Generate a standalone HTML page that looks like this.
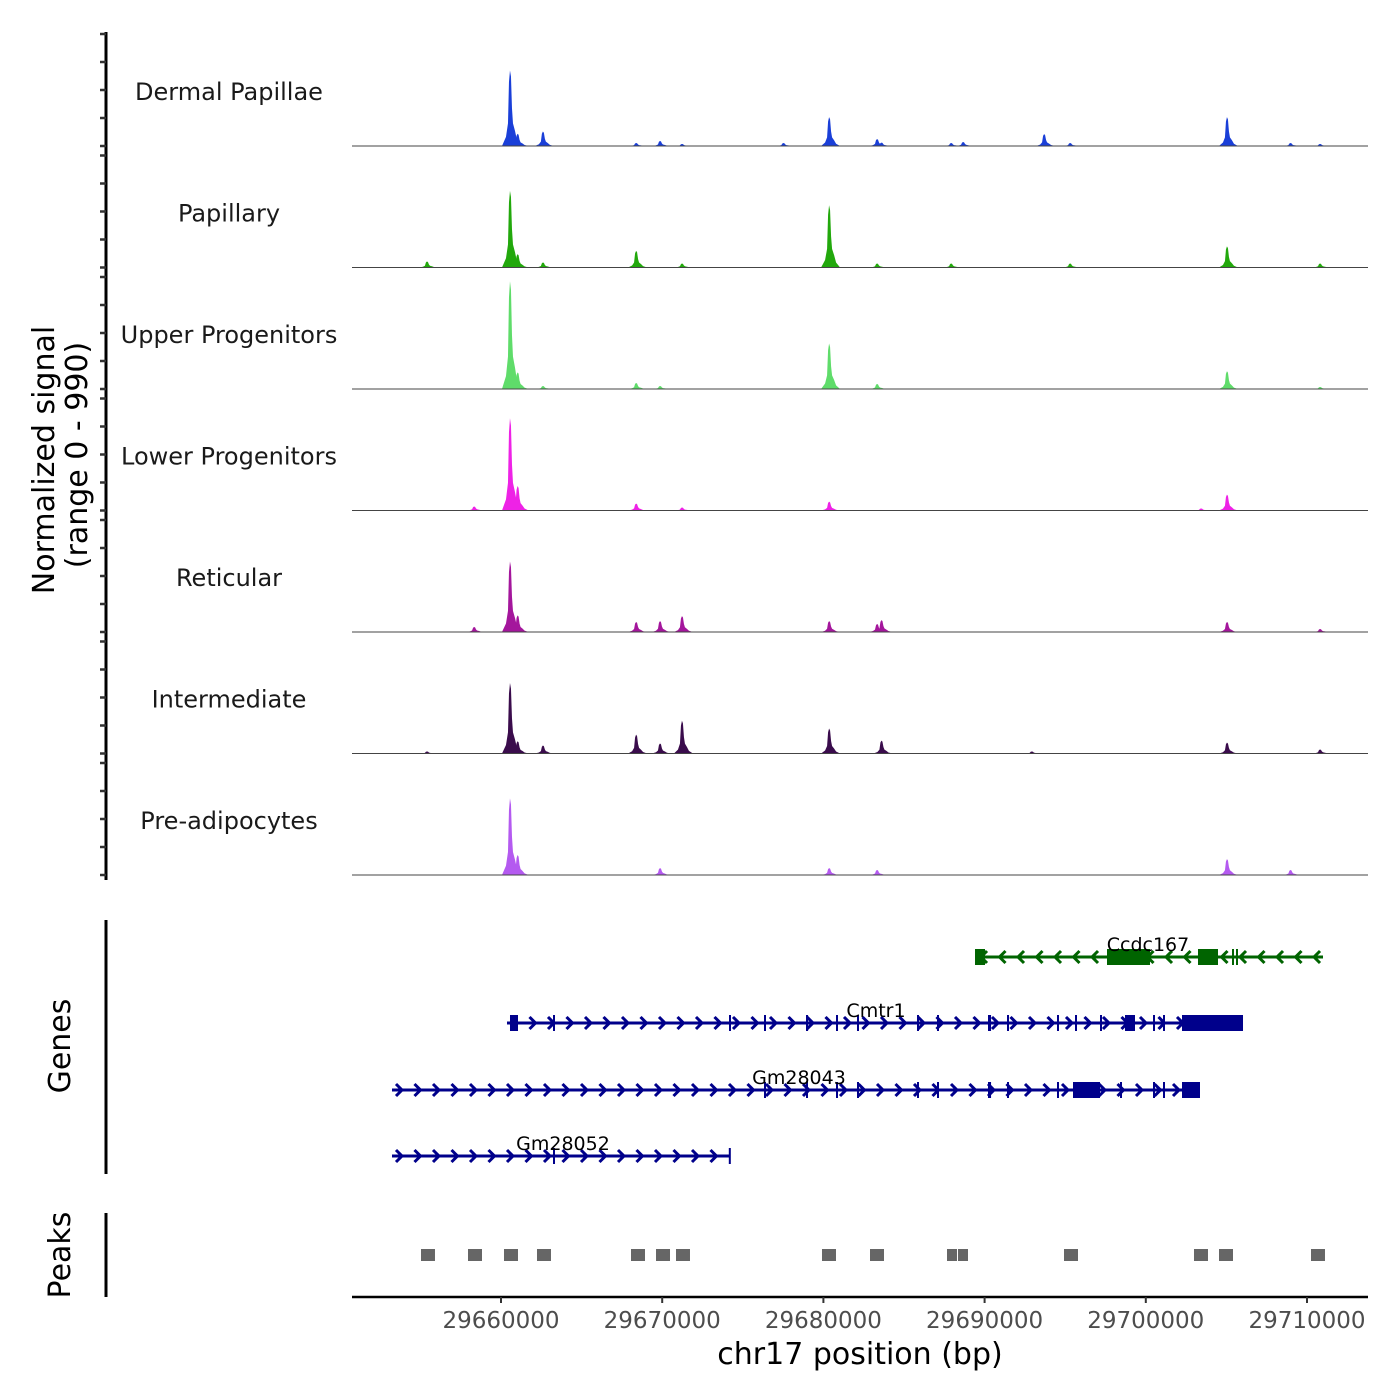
<!DOCTYPE html>
<html><head><meta charset="utf-8">
<style>
html,body{margin:0;padding:0;background:#fff;}
svg{display:block;font-family:"DejaVu Sans","Liberation Sans",sans-serif;}
</style></head>
<body>
<svg id="chart" width="1400" height="1400" viewBox="0 0 1400 1400" xmlns="http://www.w3.org/2000/svg">
<rect width="1400" height="1400" fill="#fff"/>
<text x="0" y="0" transform="translate(54,460) rotate(-90)" text-anchor="middle" font-size="30" fill="#000">Normalized signal</text>
<text x="0" y="0" transform="translate(87,455) rotate(-90)" text-anchor="middle" font-size="30" fill="#000">(range 0 - 990)</text>
<text x="0" y="0" transform="translate(70,1046) rotate(-90)" text-anchor="middle" font-size="30" fill="#000">Genes</text>
<text x="0" y="0" transform="translate(70,1255) rotate(-90)" text-anchor="middle" font-size="30" fill="#000">Peaks</text>
<line x1="106" y1="32" x2="106" y2="880" stroke="#000" stroke-width="3"/>
<line x1="106" y1="920" x2="106" y2="1174" stroke="#000" stroke-width="3"/>
<line x1="106" y1="1213" x2="106" y2="1297" stroke="#000" stroke-width="3"/>
<line x1="352" y1="1297" x2="1368" y2="1297" stroke="#000" stroke-width="2.5"/>
<text x="860" y="1364" text-anchor="middle" font-size="30" fill="#000">chr17 position (bp)</text>
<g id="tracks"></g><g id="genes"></g><g id="peaks"></g><g id="xaxis"></g>
</svg>
<script>
const trackNames = ["Dermal Papillae","Papillary","Upper Progenitors","Lower Progenitors","Reticular","Intermediate","Pre-adipocytes"];
const trackColors = ["#1a3fd8","#22a80c","#5fdc6a","#ee22e6","#a4169c","#3a0c4c","#b45af0"];
const peakPos = [29655405,29658329,29660557,29661028,29662598,29668379,29669861,29671225,29677516,29680352,29683325,29683600,29687919,29688664,29692924,29693689,29695299,29703425,29705034,29708970,29710805];
const sigDermal  = [0,0,680,110,130,27,45,18,27,260,62,30,27,36,0,107,27,0,260,27,18];
const sigPapill  = [54,0,690,120,45,150,0,36,0,560,36,0,36,0,0,0,36,0,190,0,36];
const sigUpper   = [0,0,970,150,27,54,27,0,0,410,45,0,0,0,0,0,0,0,160,0,18];
const sigLower   = [0,36,830,220,0,62,0,27,0,80,0,0,0,0,0,0,0,18,143,0,0];
const sigRetic   = [0,45,635,150,0,90,98,143,0,98,72,107,0,0,0,0,0,0,90,0,27];
const sigInter   = [18,0,635,110,72,170,90,295,0,225,0,116,0,0,18,0,0,0,98,0,36];
const sigPreadi  = [0,0,690,180,0,0,62,0,0,62,45,0,0,0,0,0,0,0,143,45,0];
const signals = [sigDermal,sigPapill,sigUpper,sigLower,sigRetic,sigInter,sigPreadi];
const xTicks = [29660000,29670000,29680000,29690000,29700000,29710000];
const peakStarts = [29655037,29657953,29660186,29662233,29668065,29669616,29670856,29679913,29682891,29687668,29688350,29694926,29702990,29704541,29710248];
const peakEnds   = [29655905,29658821,29661054,29663101,29668933,29670484,29671724,29680781,29683759,29688288,29688970,29695794,29703858,29705409,29711116];
const genes = [
 {name:"Ccdc167",strand:-1,start:29689405,end:29710993,row:0,color:"#006400",labelX:29700136,exons:[[29689405,29690025],[29697593,29700260],[29703238,29704479],[29705347,29705420],[29705595,29705668]]},
 {name:"Cmtr1",strand:1,start:29660372,end:29706030,row:1,color:"#00008b",labelX:29683263,exons:[[29660558,29661055],[29663226,29663300],[29674144,29674218],[29676315,29676389],[29678921,29679050],[29680782,29680856],[29682084,29682158],[29685806,29685930],[29687047,29687121],[29690211,29690400],[29691390,29691464],[29694491,29694565],[29695608,29695682],[29697159,29697233],[29698710,29699330],[29700447,29700521],[29701067,29701141],[29702246,29706030]]},
 {name:"Gm28043",strand:1,start:29653238,end:29703362,row:2,color:"#00008b",labelX:29678486,exons:[[29676315,29676389],[29678921,29678995],[29680782,29680856],[29682084,29682158],[29685806,29685930],[29687047,29687121],[29690211,29690400],[29691390,29691464],[29694491,29694565],[29695484,29697159],[29698400,29698474],[29700447,29700521],[29701067,29701141],[29702246,29703362]]},
 {name:"Gm28052",strand:1,start:29653238,end:29674206,row:3,color:"#00008b",labelX:29663846,exons:[[29663226,29663300],[29674132,29674206]]}
];
const NS="http://www.w3.org/2000/svg";
const X0=29660000, PX0=501, SCALE=806/50000;
function xs(v){return PX0+(v-X0)*SCALE;}
const baseY=[146,267.5,389,510.5,632,753.5,875];
const TRACK_H=110, YMAX=990;
function ys(i,v){return baseY[i]-v/YMAX*TRACK_H;}
function mk(tag,attrs,parent){const e=document.createElementNS(NS,tag);for(const k in attrs)e.setAttribute(k,attrs[k]);parent.appendChild(e);return e;}
const tg=document.getElementById('tracks');
for(let i=0;i<trackNames.length;i++){
  const g=mk('g',{},tg);
  
  
  for(let t=0;t<5;t++){
    const tk=mk('line',{x1:100,x2:106,y1:baseY[i]-t*28,y2:baseY[i]-t*28,stroke:'#333','stroke-width':2.5},g);
    
    
  }
  const lb=mk('text',{x:229,y:baseY[i]-46,'text-anchor':'middle','font-size':24,fill:'#1a1a1a'},g);
  lb.textContent=trackNames[i];
  
  
  const s=signals[i];
  for(let j=0;j<peakPos.length;j++){
    if(s[j]<=0)continue;
    const x=xs(peakPos[j]), b=baseY[i], h=baseY[i]-ys(i,s[j]);
    const pts=[[x-8,b],[x-4,b-h*0.12],[x-2,b-h*0.3],[x-1,b-h*0.85],[x,b-h],[x+1,b-h*0.92],[x+2,b-h*0.5],[x+3,b-h*0.3],[x+5,b-h*0.2],[x+7,b-h*0.08],[x+11,b]];
    const p=mk('polygon',{points:pts.map(q=>q.join(',')).join(' '),fill:trackColors[i]},g);
    
    
  }
  const bl=mk('line',{x1:352,x2:1368,y1:baseY[i],y2:baseY[i],stroke:'#444','stroke-width':1},g);
  
  
}
const gg=document.getElementById('genes');
const rowY=[957,1023,1090,1156];
genes.forEach(gn=>{
  const g=mk('g',{},gg);
  
  
  const y=rowY[gn.row], x1=xs(gn.start), x2=xs(gn.end);
  mk('line',{x1:x1,x2:x2,y1:y,y2:y,stroke:gn.color,'stroke-width':3},g);
  for(let x=x1+8;x<x2-4;x+=18.5){
    const d=gn.strand>0?`M${x-4},${y-6} L${x+2},${y} L${x-4},${y+6}`:`M${x+4},${y-6} L${x-2},${y} L${x+4},${y+6}`;
    mk('path',{d:d,stroke:gn.color,'stroke-width':3,fill:'none'},g);
  }
  gn.exons.forEach(e=>{
    const a=xs(e[0]),w=Math.max(2,xs(e[1])-a);
    const r=mk('rect',{x:a,y:y-8,width:w,height:16,fill:gn.color},g);
    
    
  });
  const t=mk('text',{x:xs(gn.labelX),y:y-6,'text-anchor':'middle','font-size':19,fill:'#000'},g);
  t.textContent=gn.name;
  
  
});
const pg=document.getElementById('peaks');
for(let k=0;k<peakStarts.length;k++){
  const a=xs(peakStarts[k]);
  const r=mk('rect',{x:a,y:1249,width:xs(peakEnds[k])-a,height:12,fill:'#666'},pg);
  
  
}
const xg=document.getElementById('xaxis');
xTicks.forEach(v=>{
  const tk=mk('line',{x1:xs(v),x2:xs(v),y1:1297,y2:1303,stroke:'#333','stroke-width':2},xg);
  
  
  const t=mk('text',{x:xs(v),y:1328,'text-anchor':'middle','font-size':23,fill:'#4d4d4d'},xg);
  t.textContent=String(v);
  
  
});
</script>
</body></html>
